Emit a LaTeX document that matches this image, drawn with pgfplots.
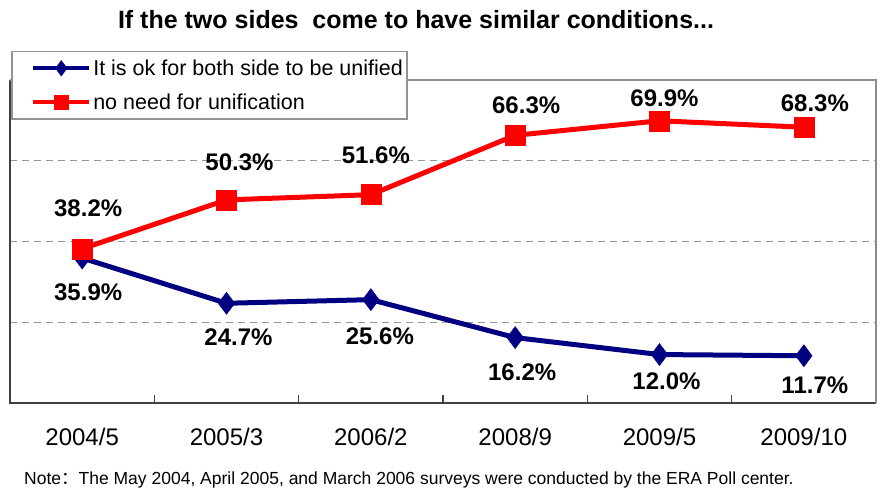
\documentclass[border=0pt]{standalone}
\usepackage{pgfplots}
\usepackage{pgfplotstable}
\pgfplotsset{compat=1.18}
\usepackage{fontspec}
\setmainfont{Liberation Sans}
\newfontfamily\cjk{Noto Sans CJK SC}
\definecolor{navyc}{HTML}{000080}
\definecolor{redc}{HTML}{FF0000}
\definecolor{gridc}{HTML}{969696}

\pgfplotstableread{
x y dx dy
0 35.9 6 -34
1 24.7 12 -34
2 25.6 9 -37
3 16.2 7 -35
4 12.0 7 -27
5 11.7 11 -29
}\unified
\pgfplotstableread{
x y dx dy
0 38.2 6 41
1 50.3 13 38
2 51.6 5 39
3 66.3 11 30
4 69.9 5 23
5 68.3 11 24
}\noneed

\begin{document}
\begin{tikzpicture}[x=1pt,y=1pt]
\useasboundingbox (0,0) rectangle (882,490);
\begin{axis}[
  at={(10pt,87pt)}, anchor=south west,
  scale only axis, width=866pt, height=323pt,
  xmin=-0.5, xmax=5.5, ymin=0, ymax=80,
  clip=false,
  axis line style={draw=none},
  xtick={0,...,5},
  xticklabels={2004/5,2005/3,2006/2,2008/9,2009/5,2009/10},
  minor xtick={0.5,1.5,2.5,3.5,4.5},
  xtick pos=bottom, ytick pos=left,
  major tick length=0pt, minor tick length=8pt,
  tick align=inside,
  major tick style={draw=none},
  minor tick style={draw=black!75, line width=1.5pt},
  ytick={20,40,60}, yticklabels={},
  ymajorgrids,
  major grid style={gridc, line width=1pt, dash pattern=on 7pt off 5pt},
  xticklabel style={font=\fontsize{24}{24}\selectfont, anchor=center, yshift=-34pt},
  legend style={at={(0.0012,1.0898)}, anchor=north west,
    draw=gray!85, line width=1.5pt, fill=white,
    font=\fontsize{21.5}{24}\selectfont,
    inner xsep=2pt, inner ysep=5pt, row sep=11pt,
    nodes={inner xsep=2pt, inner ysep=3pt}},
  legend cell align=left,
  legend image code/.code={%
    \path (0pt,0pt);
    \draw[#1, line width=4pt, every mark/.append style={scale=0.7}]
      (17pt,0pt) -- (73pt,0pt);
    \path[#1, every mark/.append style={scale=0.7}] plot coordinates {(45pt,0pt)};
  },
  nodes near coords={\pgfmathprintnumber[fixed,fixed zerofill,precision=1,assume math mode=true]{\pgfplotspointmeta}\%},
  nodes near coords style={anchor=center, text=black,
    font=\bfseries\fontsize{24}{24}\selectfont,
    xshift=\dx pt, yshift=\dy pt},
  visualization depends on={\thisrow{dx} \as \dx},
  visualization depends on={\thisrow{dy} \as \dy},
]
\addplot[navyc, line width=5pt, mark=diamond*, mark size=11pt,
  mark options={fill=navyc, draw=navyc, line width=0.5pt}]
  table[x=x, y=y, meta=y] {\unified};
\addlegendentry{It is ok for both side to be unified}
\addplot[redc, line width=5pt, mark=square*, mark size=10pt,
  mark options={fill=redc, draw=redc, line width=0.5pt}]
  table[x=x, y=y, meta=y] {\noneed};
\addlegendentry{no need for unification}
\draw[draw=black!75, line width=2pt] (rel axis cs:0,1) -- (rel axis cs:0,0) -- (rel axis cs:1,0);
\draw[draw=gray!90, line width=2pt] (rel axis cs:0,1) -- (rel axis cs:1,1) -- (rel axis cs:1,0);
\end{axis}
\node[anchor=base, font=\bfseries\fontsize{25}{25}\selectfont, inner sep=0pt]
  at (416,461) {If the two sides\ \ come to have similar conditions...};
\node[anchor=base west, font=\fontsize{17.5}{18}\selectfont, inner sep=0pt]
  at (24,6) {Note{\cjk ：}The May 2004, April 2005, and March 2006 surveys were conducted by the ERA Poll center.};
\end{tikzpicture}
\end{document}
